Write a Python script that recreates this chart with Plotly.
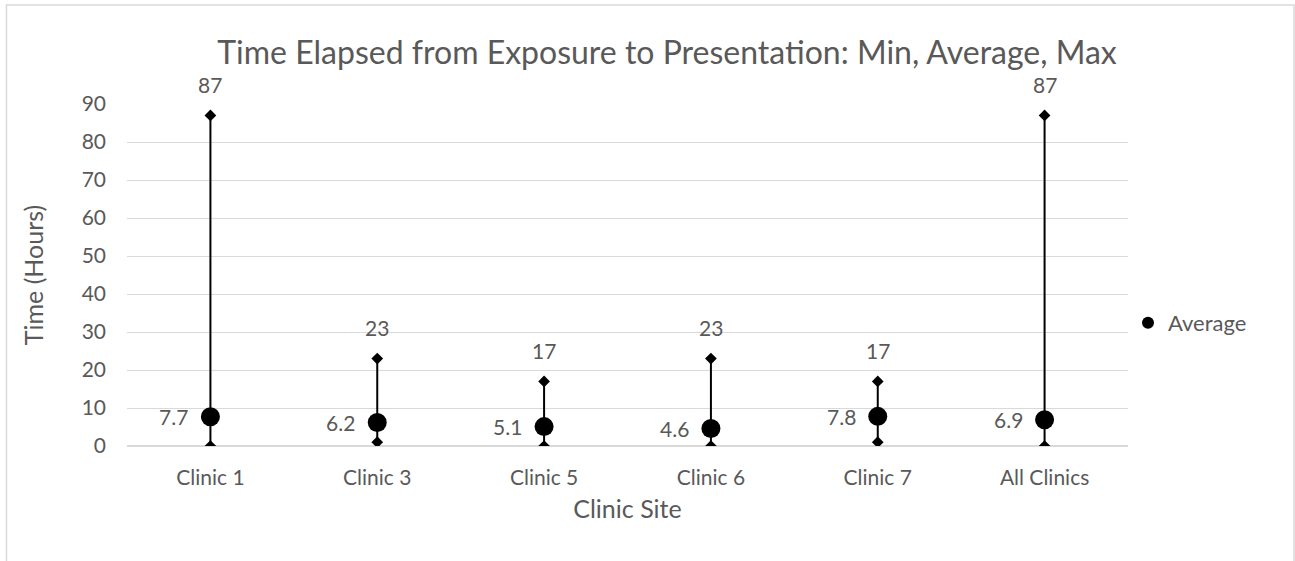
import plotly.graph_objects as go

# Clinic sites and elapsed time (hours) from exposure to presentation
sites = ["Clinic 1", "Clinic 3", "Clinic 5", "Clinic 6", "Clinic 7", "All Clinics"]
min_hours = [0, 1, 0, 0, 1, 0]
avg_hours = [7.7, 6.2, 5.1, 4.6, 7.8, 6.9]
max_hours = [87, 23, 17, 23, 17, 87]
y_ticks = [0, 10, 20, 30, 40, 50, 60, 70, 80, 90]

FONT = "Lato, Open Sans, sans-serif"
GRAY = "#595959"

fig = go.Figure()

# High-low range line through each average
fig.add_trace(go.Scatter(
    x=sites, y=avg_hours, mode="markers",
    marker=dict(size=0.1, color="rgba(0,0,0,0)"),
    error_y=dict(
        type="data", symmetric=False,
        array=[mx - a for mx, a in zip(max_hours, avg_hours)],
        arrayminus=[a - mn for mn, a in zip(min_hours, avg_hours)],
        color="black", thickness=2, width=0,
    ),
    showlegend=False, hoverinfo="skip",
))

# Min and max markers
fig.add_trace(go.Scatter(
    x=sites + sites, y=min_hours + max_hours, mode="markers",
    marker=dict(symbol="diamond", size=9, color="black"),
    showlegend=False,
))

# Average markers
fig.add_trace(go.Scatter(
    x=sites, y=avg_hours, mode="markers", name="Average",
    marker=dict(symbol="circle", size=19, color="black"),
))

# Value labels: max above, average to the left
for s, mx, a in zip(sites, max_hours, avg_hours):
    fig.add_annotation(x=s, y=mx, text=str(mx), showarrow=False, yshift=31,
                       font=dict(family=FONT, size=21, color=GRAY))
    fig.add_annotation(x=s, y=a, text=f"{a}", showarrow=False,
                       xanchor="right", xshift=-20,
                       font=dict(family=FONT, size=21, color=GRAY))

# Outer chart border
fig.add_shape(type="rect", xref="paper", yref="paper",
              x0=-0.1204, x1=1.1658, y0=-0.40, y1=1.2895,
              line=dict(color="#d9d9d9", width=1.5), layer="below")

fig.update_layout(
    width=1295, height=561,
    margin=dict(l=127, r=167, t=104, b=115),
    paper_bgcolor="white", plot_bgcolor="white",
    font=dict(family=FONT, size=21, color=GRAY),
    title=dict(text="Time Elapsed from Exposure to Presentation: Min, Average, Max",
               x=0.5395, xref="paper", xanchor="center", y=0.905, yanchor="middle",
               font=dict(family=FONT, size=32, color=GRAY)),
    xaxis=dict(title=dict(text="Clinic Site", font=dict(size=25, color=GRAY), standoff=12),
               range=[-0.5, 5.5], showgrid=False, showline=False, ticks="",
               ticklabelstandoff=17, tickfont=dict(size=21, color=GRAY)),
    yaxis=dict(title=dict(text="Time (Hours)", font=dict(size=25, color=GRAY), standoff=30),
               range=[0, 90], tickvals=y_ticks, showgrid=True, gridcolor="#d9d9d9",
               gridwidth=1, zeroline=True, zerolinecolor="#d9d9d9", showline=False,
               ticks="", ticklabelstandoff=20, tickfont=dict(size=21, color=GRAY)),
    legend=dict(x=1.0, y=0.36, yanchor="middle", xanchor="left",
                font=dict(size=22, color=GRAY), itemsizing="constant",
                itemwidth=30),
    showlegend=True,
)

fig.write_html("out.html")
